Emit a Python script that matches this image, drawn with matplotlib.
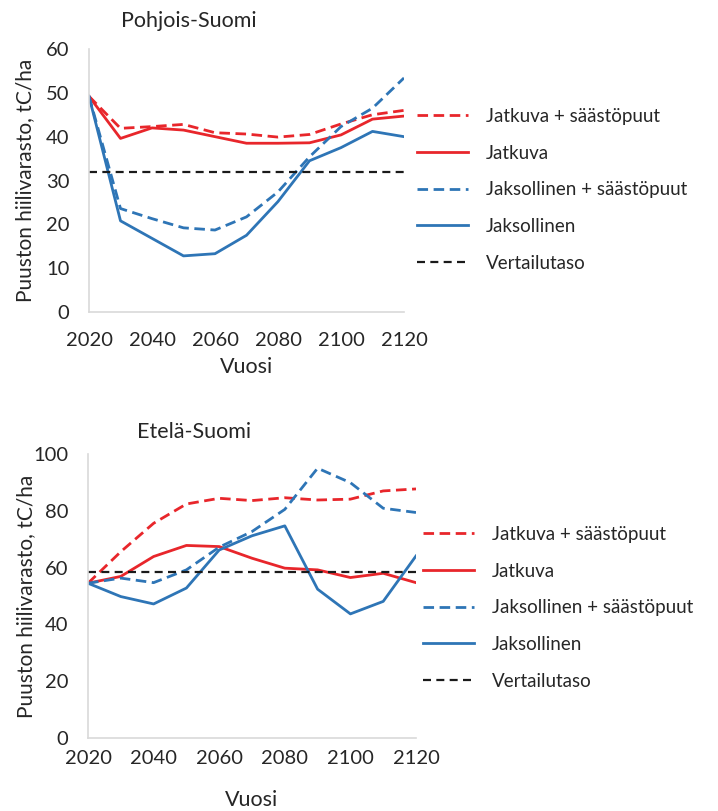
import matplotlib
matplotlib.use("Agg")
import matplotlib.pyplot as plt

plt.rcParams["font.family"] = ["Lato", "DejaVu Sans"]

YEARS = [2020, 2030, 2040, 2050, 2060, 2070, 2080, 2090, 2100, 2110, 2120]

# Pohjois-Suomi
north_jatkuva_saasto = [49.2, 41.9, 42.3, 42.8, 40.9, 40.6, 39.9, 40.5, 42.9, 45.0, 46.0]
north_jatkuva = [49.2, 39.6, 42.0, 41.5, 40.0, 38.5, 38.5, 38.6, 40.4, 44.0, 44.7]
north_jaksollinen_saasto = [49.2, 23.6, 21.3, 19.2, 18.7, 21.7, 27.4, 35.4, 42.3, 46.5, 53.4]
north_jaksollinen = [49.2, 20.8, 16.8, 12.8, 13.3, 17.5, 25.2, 34.5, 37.5, 41.2, 40.0]
north_reference = 32.0

# Etelä-Suomi
south_jatkuva_saasto = [54.5, 65.6, 75.6, 82.4, 84.4, 83.6, 84.6, 83.8, 84.1, 87.0, 87.7]
south_jatkuva = [54.5, 56.9, 63.9, 67.8, 67.4, 63.3, 59.8, 59.2, 56.5, 58.0, 54.7]
south_jaksollinen_saasto = [54.5, 56.3, 54.7, 59.2, 67.2, 72.7, 80.5, 95.0, 89.9, 80.9, 79.4]
south_jaksollinen = [54.5, 49.8, 47.2, 52.8, 66.2, 71.2, 74.7, 52.4, 43.7, 48.1, 64.1]
south_reference = 58.4

LABELS = ["Jatkuva + säästöpuut", "Jatkuva", "Jaksollinen + säästöpuut",
          "Jaksollinen", "Vertailutaso"]

RED = "#E8262B"
BLUE = "#2E75B6"
GRAY = "#D9D9D9"
TEXT = "#262626"

W, H = 718, 811


def px_axes(fig, left, top, right, bottom):
    return fig.add_axes([left / W, 1 - bottom / H, (right - left) / W, (bottom - top) / H])


def draw_panel(ax, title, title_x, title_pad, series, ref, ymax, ystep,
               legend_anchor, xpad, xlabelpad, ylabel_x):
    dash = (0, (3.8, 2.0))
    styles = [(RED, dash), (RED, "-"), (BLUE, dash), (BLUE, "-")]
    for values, (color, ls) in zip(series, styles):
        ax.plot(YEARS, values, color=color, linestyle=ls, linewidth=2.0)
    ax.plot([YEARS[0], YEARS[-1]], [ref, ref], color="#1a1a1a",
            linestyle=(0, (3.6, 2.4)), linewidth=1.6)

    ax.set_xlim(2020, 2120)
    ax.set_ylim(0, ymax)
    ax.set_xticks(range(2020, 2121, 20))
    ax.set_yticks(range(0, ymax + 1, ystep))
    ax.tick_params(length=0, labelsize=14.5, labelcolor=TEXT)
    ax.tick_params(axis="y", pad=14)
    ax.tick_params(axis="x", pad=xpad)
    for side in ["top", "right"]:
        ax.spines[side].set_visible(False)
    for side in ["left", "bottom"]:
        ax.spines[side].set_color(GRAY)
        ax.spines[side].set_linewidth(1.2)
    ax.set_title(title, fontsize=15.5, color=TEXT, x=title_x, pad=title_pad)
    ax.set_xlabel("Vuosi", fontsize=15.5, color=TEXT, labelpad=xlabelpad)
    ax.set_ylabel("Puuston hiilivarasto, tC/ha", fontsize=15, color=TEXT)
    ax.yaxis.set_label_coords(ylabel_x, 0.5)
    ax.legend(LABELS, loc="upper left", bbox_to_anchor=legend_anchor,
              bbox_transform=ax.figure.transFigure, frameon=False,
              fontsize=13.5, handlelength=2.7, handletextpad=1.0,
              labelspacing=1.05, labelcolor=TEXT)


fig = plt.figure(figsize=(W / 100, H / 100), dpi=100)

ax1 = px_axes(fig, 89, 49, 404, 312)
draw_panel(ax1, "Pohjois-Suomi", 0.317, 16,
           [north_jatkuva_saasto, north_jatkuva, north_jaksollinen_saasto, north_jaksollinen],
           north_reference, 60, 10, (400 / W, 1 - 91 / H),
           xpad=14.5, xlabelpad=6, ylabel_x=(35 - 89) / 315)

ax2 = px_axes(fig, 88, 454, 416, 738)
draw_panel(ax2, "Etelä-Suomi", 0.323, 11.7,
           [south_jatkuva_saasto, south_jatkuva, south_jaksollinen_saasto, south_jaksollinen],
           south_reference, 100, 20, (406 / W, 1 - 509 / H),
           xpad=8.6, xlabelpad=16.5, ylabel_x=(36 - 88) / 328)

fig.savefig("out.png", dpi=100)
